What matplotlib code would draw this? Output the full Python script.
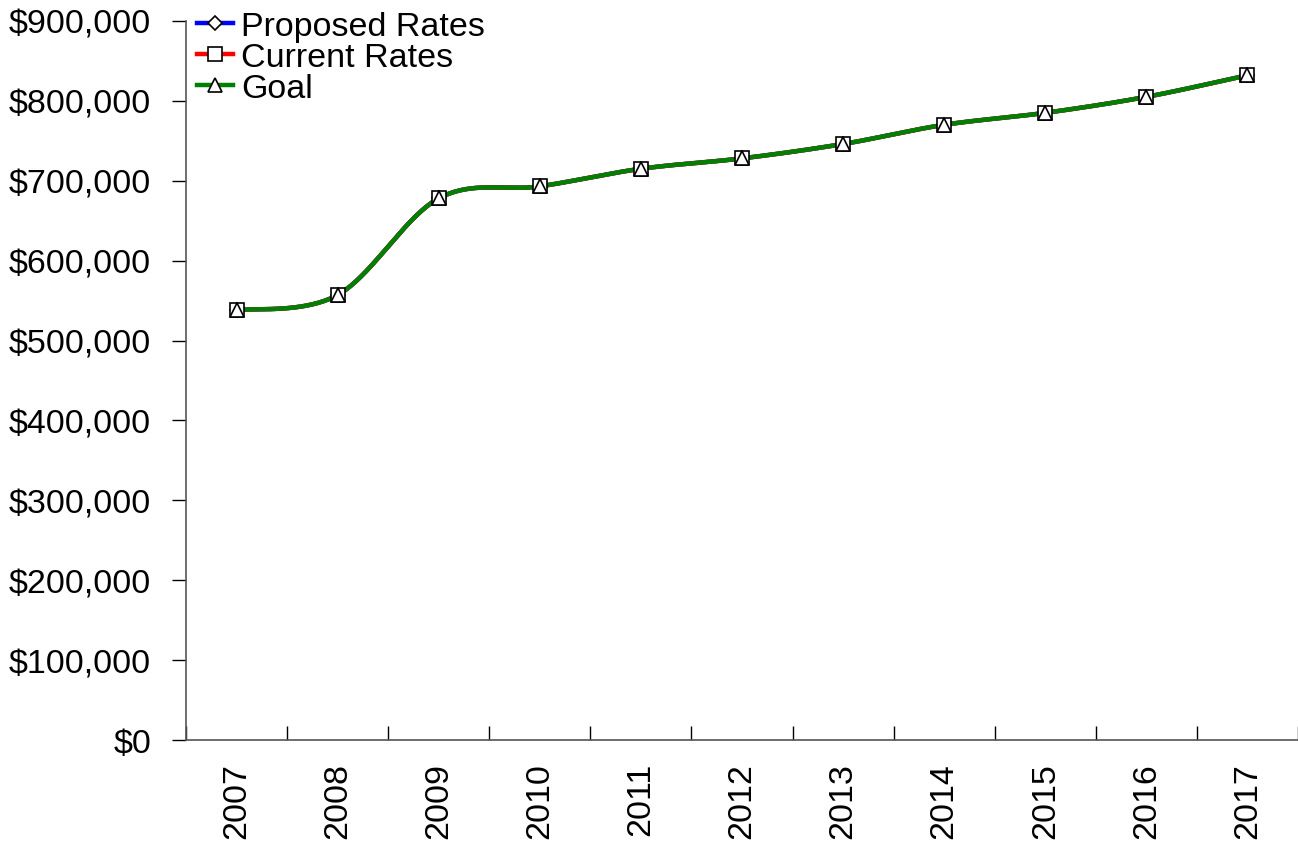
import numpy as np
import matplotlib
matplotlib.use("Agg")
import matplotlib.pyplot as plt
from matplotlib.ticker import FuncFormatter

plt.rcParams['font.family'] = ['Liberation Sans', 'DejaVu Sans']

# Data
years = ['2007', '2008', '2009', '2010', '2011', '2012', '2013', '2014', '2015', '2016', '2017']
proposed = [538000, 557000, 678000, 693000, 715000, 728000, 746000, 770000, 785000, 805000, 832000]
current = [538000, 557000, 678000, 693000, 715000, 728000, 746000, 770000, 785000, 805000, 832000]
goal = [538000, 557000, 678000, 693000, 715000, 728000, 746000, 770000, 785000, 805000, 832000]


def smooth(xs, ys, n=40):
    # Excel-like smoothed line (Catmull-Rom as cubic Bezier segments)
    p = np.column_stack([xs, ys]).astype(float)
    p_ext = np.vstack([p[0], p, p[-1]])
    out = []
    t = np.linspace(0, 1, n)[:, None]
    for i in range(len(p) - 1):
        p0, p1, p2, p3 = p_ext[i], p_ext[i + 1], p_ext[i + 2], p_ext[i + 3]
        b1 = p1 + (p2 - p0) / 6
        b2 = p2 - (p3 - p1) / 6
        seg = ((1 - t) ** 3) * p1 + 3 * ((1 - t) ** 2) * t * b1 + 3 * (1 - t) * t ** 2 * b2 + t ** 3 * p2
        out.append(seg if i == 0 else seg[1:])
    out = np.vstack(out)
    return out[:, 0], out[:, 1]


fig = plt.figure(figsize=(12.98, 8.45), dpi=100)
ax = fig.add_axes([0.1433, 0.1231, 0.8567, 0.8509])

x = np.arange(len(years))
series = [
    ('Proposed Rates', proposed, '#0000ff', 'D', 7.5),
    ('Current Rates', current, '#ff0000', 's', 10),
    ('Goal', goal, '#008000', '^', 10),
]
handles = []
for label, vals, color, marker, ms in series:
    sx, sy = smooth(x, vals)
    ax.plot(sx, sy, color=color, lw=3.2, solid_capstyle='round', zorder=2)
    ax.plot(x, vals, linestyle='none', marker=marker, markersize=ms,
            markerfacecolor='white', markeredgecolor='black', markeredgewidth=1.2, zorder=3)
    h, = ax.plot([], [], color=color, lw=3.2, marker=marker, markersize=ms,
                 markerfacecolor='white', markeredgecolor='black', markeredgewidth=1.2)
    handles.append((h, label))

ax.set_xlim(-0.5, len(years) - 0.5)
ax.set_ylim(0, 900000)
ax.set_yticks(np.arange(0, 900001, 100000))
ax.yaxis.set_major_formatter(FuncFormatter(lambda v, p: f"${v:,.0f}"))
ax.set_xticks(x)
ax.set_xticklabels(years, rotation=90)
ax.set_xticks(np.arange(-0.5, len(years), 1.0), minor=True)
ax.tick_params(axis='x', which='major', length=0, labelsize=24.5, pad=16)
ax.tick_params(axis='x', which='minor', direction='in', length=10, width=1, color='black')
ax.tick_params(axis='y', which='major', direction='out', length=10, width=1, labelsize=24.5, pad=15)

for s in ['top', 'right']:
    ax.spines[s].set_visible(False)
for s in ['left', 'bottom']:
    ax.spines[s].set_color('#555555')
    ax.spines[s].set_linewidth(1.2)
    ax.spines[s].set_clip_on(False)

leg = ax.legend([h for h, _ in handles], [l for _, l in handles],
                loc='upper left', bbox_to_anchor=(197 / 1298, 1 - 12 / 845), bbox_transform=fig.transFigure,
                frameon=False, fontsize=24.5, handlelength=1.05, handletextpad=0.24,
                labelspacing=0.0, borderaxespad=0, borderpad=0)

fig.savefig("out.png", dpi=100)
